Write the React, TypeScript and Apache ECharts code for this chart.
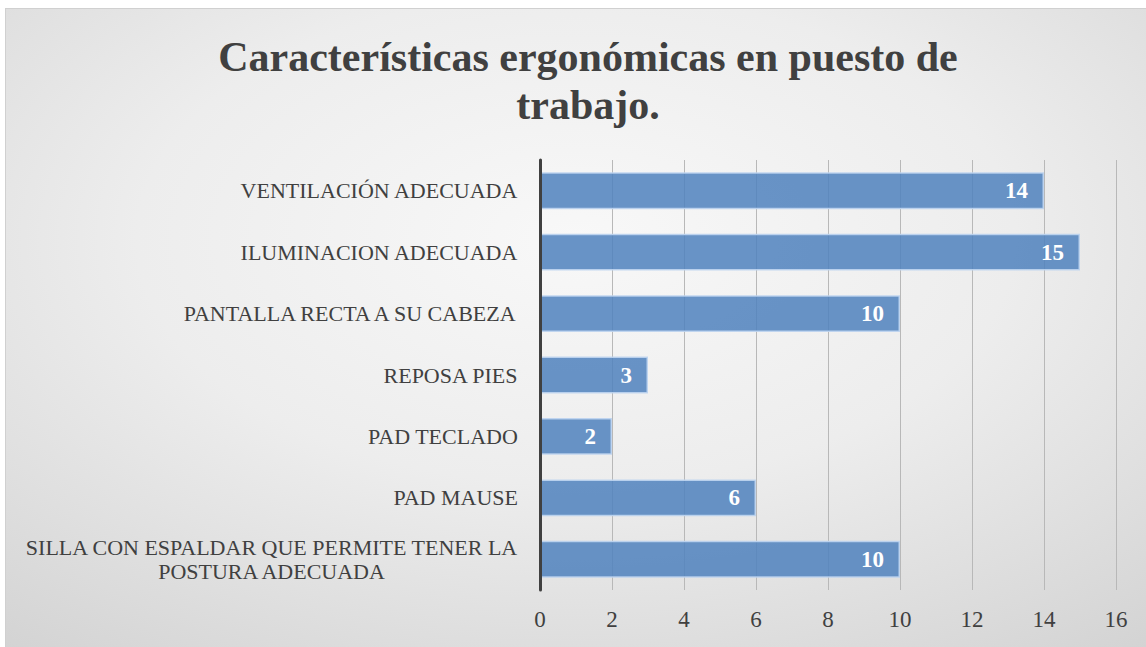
import React, { useEffect, useRef } from "react";
import * as echarts from "echarts";

const categories = [
  "VENTILACIÓN ADECUADA",
  "ILUMINACION ADECUADA",
  "PANTALLA RECTA A SU CABEZA",
  "REPOSA PIES",
  "PAD TECLADO",
  "PAD MAUSE",
  "SILLA CON ESPALDAR QUE PERMITE TENER LA\nPOSTURA ADECUADA",
];
const values = [14, 15, 10, 3, 2, 6, 10];
const titleText = "Características ergonómicas en puesto de\ntrabajo.";
const axisMin = 0;
const axisMax = 16;
const axisInterval = 2;

const SERIF = "'Liberation Serif', 'Times New Roman', serif";

export default function App() {
  const ref = useRef<HTMLDivElement>(null);

  useEffect(() => {
    document.body.style.margin = "0";
    if (!ref.current) return;
    const chart = echarts.init(ref.current, undefined, { renderer: "svg" });
    chart.setOption({
      animation: false,
      backgroundColor: {
        type: "radial",
        x: 0.5,
        y: 0.36,
        r: 1.1,
        colorStops: [
          { offset: 0, color: "#F8F8F8" },
          { offset: 0.35, color: "#EDEDED" },
          { offset: 1, color: "#C2C2C2" },
        ],
      },
      title: {
        text: titleText,
        left: 577,
        top: 19,
        textAlign: "center",
        textStyle: {
          fontFamily: SERIF,
          fontSize: 42,
          fontWeight: "bold",
          color: "#404040",
          lineHeight: 48,
        },
      },
      grid: { left: 534, top: 151, right: 30, bottom: 57, containLabel: false },
      xAxis: {
        type: "value",
        min: axisMin,
        max: axisMax,
        interval: axisInterval,
        axisLine: { show: false },
        axisTick: { show: false },
        splitLine: { show: true, lineStyle: { color: "#B8B8B8", width: 1 } },
        axisLabel: {
          margin: 18,
          fontFamily: SERIF,
          fontSize: 23,
          color: "#404040",
        },
      },
      yAxis: {
        type: "category",
        inverse: true,
        z: 10,
        data: categories,
        axisLine: { show: true, lineStyle: { color: "#404040", width: 3 } },
        axisTick: { show: false },
        splitLine: { show: false },
        axisLabel: {
          margin: 22,
          formatter: (v: string) =>
            v
              .split("\n")
              .map((l) => "{c|" + l + "}")
              .join("\n"),
          rich: {
            c: {
              align: "center",
              fontFamily: SERIF,
              fontSize: 22,
              color: "#404040",
              lineHeight: 24,
            },
          },
        },
      },
      series: [
        {
          type: "bar",
          data: values,
          barCategoryGap: "40%",
          itemStyle: {
            color: "rgba(79,129,189,0.85)",
            borderColor: "rgba(190,212,240,0.9)",
            borderWidth: 1.5,
          },
          label: {
            show: true,
            position: "insideRight",
            distance: 16,
            fontFamily: SERIF,
            fontSize: 23,
            fontWeight: "bold",
            color: "#FFFFFF",
          },
        },
      ],
    });
    return () => chart.dispose();
  }, []);

  return (
    <div
      style={{
        position: "absolute",
        left: 0,
        top: 0,
        width: 1146,
        height: 647,
        background: "#FFFFFF",
        overflow: "hidden",
      }}
    >
      <div
        style={{
          position: "absolute",
          left: 5,
          top: 8,
          width: 1141,
          height: 639,
          borderTop: "1px solid #D0D0D0",
          borderLeft: "1px solid #D0D0D0",
          boxSizing: "border-box",
        }}
      />
      <div
        ref={ref}
        style={{ position: "absolute", left: 6, top: 9, width: 1140, height: 638 }}
      />
    </div>
  );
}
